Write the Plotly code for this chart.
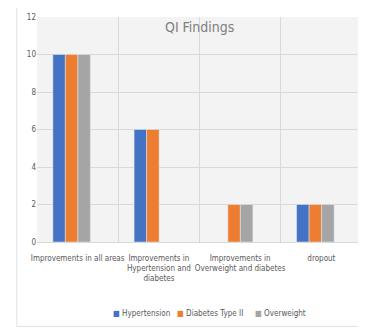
import plotly.graph_objects as go

categories = ["Improvements in all areas", "Improvements in<br>Hypertension and<br>diabetes",
              "Improvements in<br>Overweight and diabetes", "dropout"]
series_names = ["Hypertension", "Diabetes Type II", "Overweight"]
hypertension = [10, 6, None, 2]
diabetes = [10, 6, 2, 2]
overweight = [10, None, 2, 2]
colors = ["#4472C4", "#ED7D31", "#A5A5A5"]
y_ticks = [0, 2, 4, 6, 8, 10, 12]

font = "DejaVu Sans Condensed, Liberation Sans Narrow, sans-serif"
bar_w = 0.154
group_shift = -0.074
fig = go.Figure()
for i, (name, vals, col) in enumerate(zip(series_names, [hypertension, diabetes, overweight], colors)):
    fig.add_trace(go.Bar(name=name, x=categories, y=vals, marker_color=col,
                         width=bar_w, offset=group_shift + (i - 1.5) * bar_w))

legend_x = [0.32, 0.532, 0.748]
annotations = [dict(text="QI Findings", x=0.5, y=0.956, xref="paper", yref="paper",
                    xanchor="center", yanchor="middle",
                    showarrow=False, font=dict(size=14, color="#7f7f7f", family=font))]
for name, col, lx in zip(series_names, colors, legend_x):
    annotations.append(dict(text=f"<span style='color:{col}'>■</span> {name}", x=lx, y=-0.316,
                            xref="paper", yref="paper", showarrow=False,
                            xanchor="center", yanchor="middle",
                            font=dict(size=8, color="#595959", family=font)))

fig.update_layout(
    width=358, height=320,
    margin=dict(l=29, r=4, t=9, b=86, autoexpand=False),
    paper_bgcolor="white", plot_bgcolor="#f3f3f3",
    barmode="overlay",
    font=dict(family=font, size=8, color="#595959"),
    showlegend=False,
    xaxis=dict(showgrid=True, gridcolor="#d9d9d9", tickson="boundaries", ticks="",
               tickangle=0, automargin=False, ticklabelstandoff=8,
               showline=True, linecolor="#d9d9d9", tickfont=dict(size=8), fixedrange=True),
    yaxis=dict(range=[0, 12], tickvals=y_ticks, showgrid=True, gridcolor="#d9d9d9",
               automargin=False,
               zeroline=False, tickfont=dict(size=8), ticks="", fixedrange=True),
    annotations=annotations,
    shapes=[dict(type="rect", xref="paper", yref="paper", x0=-0.062, x1=1.05, y0=-0.375, y1=1.062,
                 line=dict(color="#e0e0e0", width=1), layer="below")],
)
fig.write_html("out.html")
